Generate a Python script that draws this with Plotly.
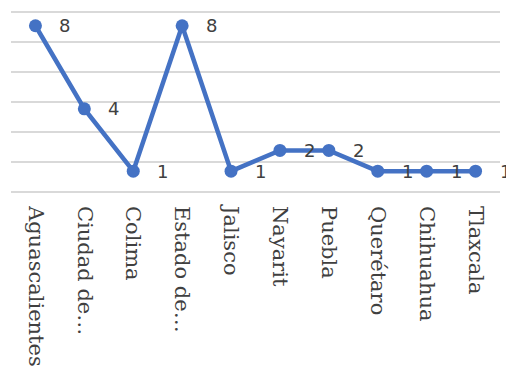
import plotly.graph_objects as go

categories = ["Aguascalientes", "Ciudad de…", "Colima", "Estado de…", "Jalisco",
              "Nayarit", "Puebla", "Querétaro", "Chihuahua", "Tlaxcala"]
values = [8, 4, 1, 8, 1, 2, 2, 1, 1, 1]
value_labels = [str(v) for v in values]

blue = "#4472C4"

fig = go.Figure()
fig.add_trace(go.Scatter(
    x=categories, y=values, mode="lines+markers",
    line=dict(color=blue, width=4.5),
    marker=dict(color=blue, size=13),
    hoverinfo="skip", showlegend=False, cliponaxis=False,
))

for c, v, t in zip(categories, values, value_labels):
    fig.add_annotation(x=c, y=v, text=t, showarrow=False,
                       xanchor="left", yanchor="middle", xshift=22,
                       font=dict(family="DejaVu Sans", size=18, color="#404040"))

top = 8.66
pad = 0.05
fig.update_layout(
    width=506, height=372,
    margin=dict(l=10.5, r=5.5, t=11, b=176.5),
    plot_bgcolor="white", paper_bgcolor="white",
    xaxis=dict(
        type="category", range=[-0.5, len(categories) - 0.5],
        tickangle=90, showgrid=False, zeroline=False, showline=False,
        ticks="", ticklabelstandoff=12,
        tickfont=dict(family="DejaVu Serif", size=21, color="#404040"),
    ),
    yaxis=dict(
        range=[-pad, top + pad], tick0=0, dtick=top / 6,
        showgrid=True, gridcolor="#D9D9D9", gridwidth=1.5,
        zeroline=False, showline=False, showticklabels=False, ticks="",
    ),
)

fig.write_html("out.html")
